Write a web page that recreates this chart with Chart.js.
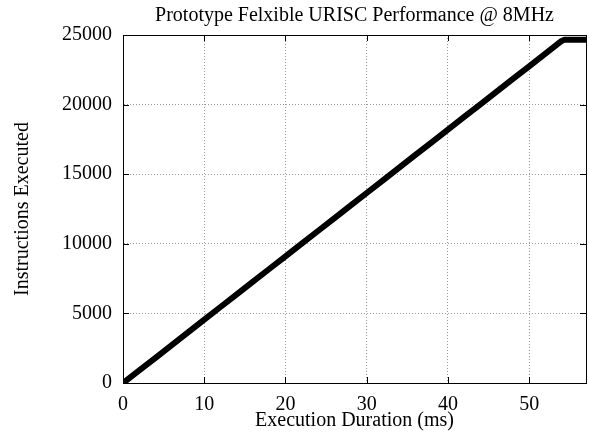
<!DOCTYPE html>
<html>
<head>
<meta charset="utf-8">
<script src="https://cdn.jsdelivr.net/npm/chart.js@4/dist/chart.umd.min.js"></script>
<style>
  html, body { margin: 0; padding: 0; background: #ffffff; }
  #chart { display: block; }
</style>
</head>
<body>
<canvas id="chart" width="589" height="439"></canvas>
<script>
const durationMs = [0, 2, 4, 6, 8, 10, 12, 14, 16, 18, 20, 22, 24, 26, 28, 30, 32, 34, 36, 38, 40, 42, 44, 46, 48, 50, 52, 54, 54.3, 57];
const instructions = [0, 900, 1810, 2720, 3640, 4550, 5460, 6370, 7280, 8190, 9100, 10010, 10920, 11830, 12740, 13650, 14560, 15470, 16380, 17290, 18200, 19110, 20020, 20930, 21840, 22750, 23660, 24570, 24650, 24650];
const xTicks = [0, 10, 20, 30, 40, 50];
const yTicks = [0, 5000, 10000, 15000, 20000, 25000];

const FONT = "'Liberation Serif', 'Times New Roman', serif";

// gnuplot style box + inward tick marks
const frame = {
  id: "frame",
  afterDraw(chart) {
    const { ctx, chartArea: a, scales } = chart;
    ctx.save();
    ctx.strokeStyle = "#000000";
    ctx.lineWidth = 1;
    ctx.beginPath();
    xTicks.forEach((v) => {
      const px = Math.round(scales.x.getPixelForValue(v)) + 0.5;
      ctx.moveTo(px, a.bottom); ctx.lineTo(px, a.bottom - 6);
      ctx.moveTo(px, a.top); ctx.lineTo(px, a.top + 6);
    });
    yTicks.forEach((v) => {
      const py = Math.round(scales.y.getPixelForValue(v)) + 0.5;
      ctx.moveTo(a.left, py); ctx.lineTo(a.left + 6, py);
      ctx.moveTo(a.right, py); ctx.lineTo(a.right - 6, py);
    });
    ctx.stroke();
    ctx.strokeRect(Math.round(a.left) + 0.5, Math.round(a.top) + 0.5, Math.round(a.right - a.left), Math.round(a.bottom - a.top));
    ctx.restore();
  },
};

new Chart(document.getElementById("chart"), {
  type: "line",
  data: {
    datasets: [{
      data: durationMs.map((x, i) => ({ x, y: instructions[i] })),
      borderColor: "#000000",
      borderWidth: 6,
      borderCapStyle: "round",
      borderJoinStyle: "round",
      pointRadius: 0,
      tension: 0,
      fill: false,
    }],
  },
  plugins: [frame],
  options: {
    responsive: false,
    animation: false,
    layout: { padding: { left: 0, right: 3, top: 0, bottom: 0 } },
    plugins: {
      legend: { display: false },
      tooltip: { enabled: false },
      title: {
        display: true,
        fullSize: false,
        text: "Prototype Felxible URISC Performance @ 8MHz",
        color: "#000000",
        font: { family: FONT, size: 20, weight: "normal" },
        padding: { top: 4.2, bottom: 6.8 },
      },
    },
    scales: {
      x: {
        type: "linear",
        min: 0,
        max: 57,
        afterBuildTicks: (s) => { s.ticks = xTicks.map((value) => ({ value })); },
        afterFit: (s) => { s.height = 56; },
        grid: { color: "#9a9a9a", drawTicks: false, lineWidth: 1 },
        border: { display: true, color: "#000000", dash: [1, 2] },
        ticks: { color: "#000000", padding: 10, maxRotation: 0, font: { family: FONT, size: 20 }, callback: (v) => String(v) },
        title: {
          display: true,
          text: "Execution Duration (ms)",
          color: "#000000",
          font: { family: FONT, size: 20 },
          padding: { top: 0, bottom: 6 },
        },
      },
      y: {
        type: "linear",
        min: 0,
        max: 25000,
        afterBuildTicks: (s) => { s.ticks = yTicks.map((value) => ({ value })); },
        afterFit: (s) => { s.width = 123; },
        grid: { color: "#9a9a9a", drawTicks: false, lineWidth: 1 },
        border: { display: true, color: "#000000", dash: [1, 2] },
        ticks: { color: "#000000", padding: 11, font: { family: FONT, size: 20 }, callback: (v) => String(v) },
        title: {
          display: true,
          text: "Instructions Executed",
          color: "#000000",
          font: { family: FONT, size: 20 },
          padding: { top: 10.5, bottom: 0 },
        },
      },
    },
  },
});
</script>
</body>
</html>
